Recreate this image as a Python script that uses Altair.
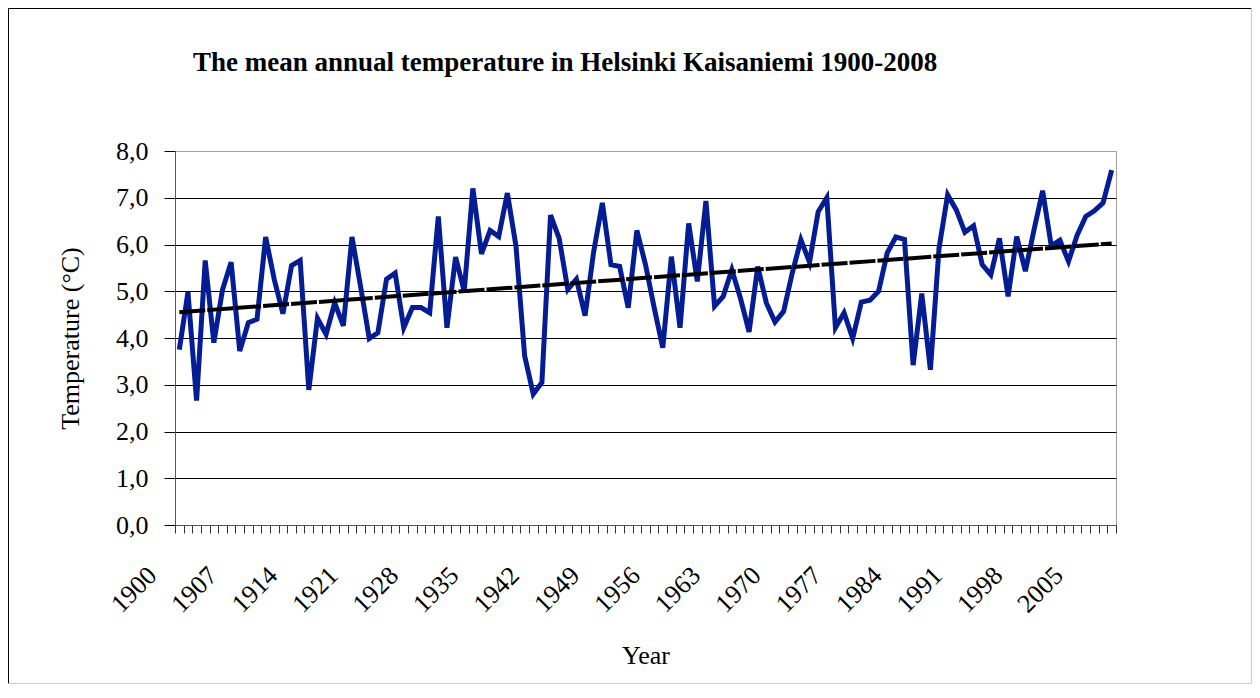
import altair as alt
import pandas as pd

title_text = "The mean annual temperature in Helsinki Kaisaniemi 1900-2008"
years = list(range(1900, 2009))
temps = [
    3.75, 4.98, 2.66, 5.66, 3.90, 5.03, 5.62, 3.72, 4.33, 4.40,
    6.16, 5.25, 4.52, 5.55, 5.66, 2.89, 4.42, 4.08, 4.75, 4.26,
    6.16, 5.10, 3.99, 4.11, 5.26, 5.39, 4.22, 4.65, 4.65, 4.54,
    6.60, 4.22, 5.73, 5.00, 7.20, 5.80, 6.30, 6.17, 7.10, 5.96,
    3.62, 2.80, 3.05, 6.63, 6.13, 5.04, 5.26, 4.48, 5.85, 6.89,
    5.57, 5.53, 4.65, 6.30, 5.57, 4.65, 3.79, 5.74, 4.22, 6.45,
    5.21, 6.93, 4.68, 4.89, 5.46, 4.85, 4.13, 5.53, 4.75, 4.34,
    4.57, 5.39, 6.10, 5.62, 6.70, 7.00, 4.22, 4.54, 3.99, 4.77,
    4.81, 5.00, 5.82, 6.16, 6.11, 3.42, 4.95, 3.32, 5.92, 7.06,
    6.74, 6.26, 6.40, 5.57, 5.35, 6.13, 4.89, 6.17, 5.43, 6.31,
    7.15, 5.97, 6.09, 5.64, 6.20, 6.60, 6.72, 6.89, 7.59,
]
y_ticks = [0, 1, 2, 3, 4, 5, 6, 7, 8]
x_tick_bounds = [y - 0.5 for y in range(1900, 2010)]

df = pd.DataFrame({"Year": years, "Temp": temps})

W, H = 941, 374
SERIF = "Liberation Serif"

x_scale = alt.Scale(domain=[1899.5, 2008.5], nice=False, zero=False)
y_scale = alt.Scale(domain=[0, 8], nice=False)

x_axis = alt.Axis(
    values=x_tick_bounds, tickCount=500,
    labelExpr="(datum.value - 1899.5) % 7 == 0 ? toString(datum.value + 0.5) : ''",
    labelAngle=-45, labelAlign="right", labelBaseline="middle",
    labelOffset=-23, labelPadding=38, labelOverlap=False, labelFlush=False, labelBound=False,
    labelFont=SERIF, labelFontSize=26, labelColor="black",
    tickSize=8, tickColor="#333333", domainColor="#555555", grid=False,
    title="Year", titleFont=SERIF, titleFontSize=26, titleFontWeight="normal", titleColor="black",
    titleX=W / 2, titleY=138, titleBaseline="alphabetic", titleAlign="center",
)
y_axis = alt.Axis(
    values=y_ticks, tickCount=20,
    labelExpr="replace(format(datum.value, '.1f'), '.', ',')",
    labelFont=SERIF, labelFontSize=26, labelColor="black", labelPadding=16,
    tickSize=11, tickColor="black", domainColor="#555555",
    grid=True,
    gridColor={"condition": {"test": "datum.value == 8", "value": "#a0a0a0"}, "value": "black"},
    gridWidth=1,
    title="Temperature (°C)", titleFont=SERIF, titleFontSize=26, titleFontWeight="normal", titleColor="black",
    titleAngle=270, titleX=-97, titleY=H / 2, titleBaseline="alphabetic", titleAlign="center",
)

base = alt.Chart(df)

line = base.mark_line(color="#041C94", strokeWidth=5, strokeJoin="miter").encode(
    x=alt.X("Year:Q", scale=x_scale, axis=x_axis),
    y=alt.Y("Temp:Q", scale=y_scale, axis=y_axis),
)

trend = base.transform_regression("Year", "Temp").mark_line(
    color="black", strokeWidth=4, strokeDash=[26, 2]
).encode(
    x=alt.X("Year:Q", scale=x_scale),
    y=alt.Y("Temp:Q", scale=y_scale),
)

one = alt.Chart(pd.DataFrame({"k": [0]}))
L, T, R, B = -166.5, -142.5, 1076.5, 532.5
border_left = one.mark_rule(color="black", strokeWidth=1).encode(
    x=alt.value(L), y=alt.value(T), y2=alt.value(B))
border_top = one.mark_rule(color="black", strokeWidth=1).encode(
    x=alt.value(L), x2=alt.value(R), y=alt.value(T))
border_right = one.mark_rule(color="#cccccc", strokeWidth=1).encode(
    x=alt.value(R), y=alt.value(T), y2=alt.value(B))
border_bottom = one.mark_rule(color="#cccccc", strokeWidth=1).encode(
    x=alt.value(L), x2=alt.value(R), y=alt.value(B))

title = one.mark_text(
    font=SERIF, fontSize=27, fontWeight="bold", color="black",
    align="left", baseline="alphabetic",
).encode(x=alt.value(18), y=alt.value(-80), text=alt.value(title_text))

chart = alt.layer(line, trend, border_left, border_top, border_right, border_bottom, title).properties(
    width=W, height=H,
    autosize=alt.AutoSizeParams(type="none"),
    padding={"left": 167, "top": 143, "right": 136, "bottom": 159},
    background="white",
).configure_view(stroke="#a0a0a0", strokeWidth=1)

chart.save("out.html", embed_options={"renderer": "svg", "actions": False})
